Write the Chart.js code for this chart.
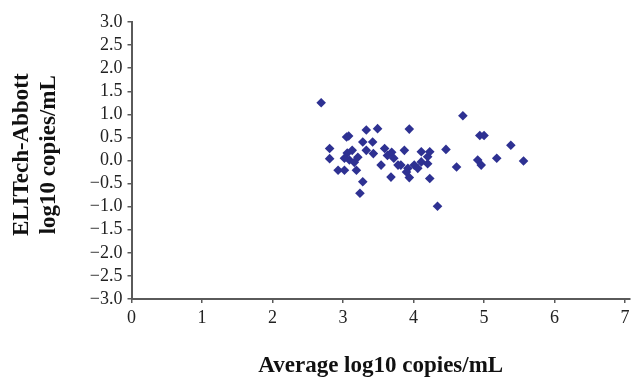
<!DOCTYPE html>
<html>
<head>
<meta charset="utf-8">
<script src="https://cdn.jsdelivr.net/npm/chart.js@4"></script>
<style>
  html, body { margin: 0; padding: 0; background: #fff; }
  #wrap { width: 631px; height: 378px; overflow: hidden; position: relative; }
  #wrap canvas { position: absolute; left: 0; top: 0; }
</style>
</head>
<body>
<div id="wrap"><canvas id="bland" width="645" height="392"></canvas></div>
<script>
// average of the two assays (x) and the difference ELITech - Abbott (y)
const avgLog = [
  2.69, 4.70, 3.49, 3.33, 3.94, 3.05, 3.08, 4.94, 5.00, 2.81,
  2.81, 3.28, 3.42, 3.33, 3.59, 3.63, 5.38, 4.46, 3.87, 4.11,
  4.20, 3.06, 3.13, 3.21, 3.09, 3.16, 3.02, 3.69, 3.72, 3.54,
  3.82, 3.92, 4.01, 4.11, 4.20, 5.18, 5.56, 4.91, 4.96, 4.61,
  2.93, 3.02, 3.19, 3.28, 3.68, 4.23, 3.94, 3.90, 3.24, 4.34,
  3.78, 4.06, 3.43, 4.23
];
const diffLog = [
  1.25, 0.97, 0.69, 0.66, 0.68, 0.51, 0.53, 0.54, 0.54, 0.26,
  0.04, 0.40, 0.40, 0.22, 0.26, 0.11, 0.33, 0.24, 0.22, 0.19,
  0.08, 0.16, 0.22, 0.07, 0.01, -0.04, 0.05, 0.18, 0.05, -0.10,
  -0.10, -0.17, -0.10, -0.03, -0.07, 0.05, -0.01, 0.01, -0.10, -0.14,
  -0.21, -0.21, -0.21, -0.46, -0.36, -0.39, -0.37, -0.25, -0.71, -0.99,
  -0.10, -0.17, 0.15, 0.19
];
const xTicks = [0, 1, 2, 3, 4, 5, 6, 7];
const yTicks = [-3.0, -2.5, -2.0, -1.5, -1.0, -0.5, 0.0, 0.5, 1.0, 1.5, 2.0, 2.5, 3.0];

const points = avgLog.map((x, i) => ({ x: x, y: diffLog[i] }));
const axisColor = '#5a5a5a';
const tickFont = { family: '"Liberation Serif", "Times New Roman", serif', size: 18 };
const titleFont = { family: '"Liberation Serif", "Times New Roman", serif', size: 23, weight: 'bold', lineHeight: 1.15 };

new Chart(document.getElementById('bland'), {
  type: 'scatter',
  data: {
    datasets: [{
      data: points,
      pointStyle: 'rectRot',
      pointRadius: 4.8,
      pointHoverRadius: 4.8,
      backgroundColor: '#2e3192',
      borderColor: '#2e3192',
      borderWidth: 0
    }]
  },
  options: {
    responsive: false,
    animation: false,
    events: [],
    layout: { padding: { left: 0, top: 22, right: 15, bottom: 0 } },
    plugins: { legend: { display: false }, tooltip: { enabled: false } },
    scales: {
      x: {
        type: 'linear',
        min: 0,
        max: 7.07,
        afterBuildTicks: (s) => { s.ticks = xTicks.map(v => ({ value: v })); },
        afterFit: (s) => { s.height = 93; },
        ticks: { font: tickFont, color: '#222', padding: 4, maxRotation: 0, autoSkip: false },
        grid: { drawOnChartArea: false, drawTicks: true, tickLength: 4, color: axisColor, lineWidth: 1.5 },
        border: { display: true, color: axisColor, width: 2 },
        title: {
          display: true,
          text: 'Average log10 copies/mL',
          font: titleFont,
          color: '#111',
          padding: { top: 0, bottom: 13 }
        }
      },
      y: {
        type: 'linear',
        min: -3,
        max: 3,
        afterBuildTicks: (s) => { s.ticks = yTicks.map(v => ({ value: v })); },
        afterFit: (s) => { s.width = 131.5; },
        ticks: {
          font: tickFont,
          color: '#222',
          padding: 5,
          autoSkip: false,
          callback: (v) => (v < 0 ? '\u2212' : '') + Math.abs(v).toFixed(1)
        },
        grid: { drawOnChartArea: false, drawTicks: true, tickLength: 4, color: axisColor, lineWidth: 1.5 },
        border: { display: true, color: axisColor, width: 2 },
        title: {
          display: true,
          // leading spaces nudge the rotated title up a little, as in the original
          text: ['  ELITech-Abbott', '  log10 copies/mL'],
          font: titleFont,
          color: '#111',
          padding: { top: 9, bottom: 0 }
        }
      }
    }
  }
});
</script>
</body>
</html>
